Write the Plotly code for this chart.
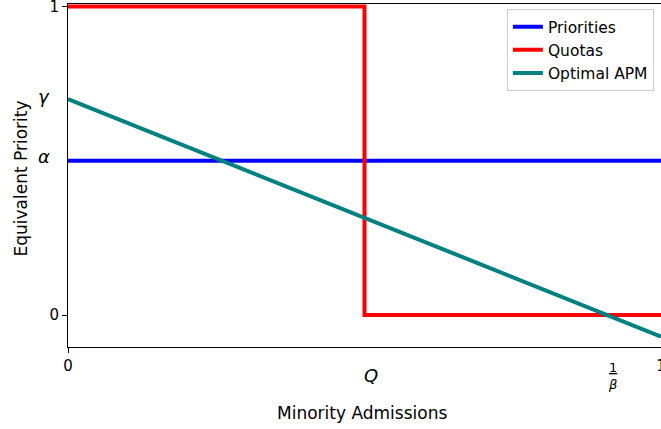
import plotly.graph_objects as go

# Data
x_priorities = [0, 1]
y_priorities = [0.5, 0.5]
x_quotas = [0, 0.5, 0.5, 1]
y_quotas = [1, 1, 0, 0]
x_apm = [0, 1]
y_apm = [0.7, -0.07]

alpha_val = 0.5
gamma_val = 0.7
q_val = 0.5
inv_beta_val = 0.909

x_tickvals = [0, 1]
x_ticktext = ["0", "1"]
y_tickvals = [0, 1]
y_ticktext = ["0", "1"]

FONT = "DejaVu Sans"

fig = go.Figure()
fig.add_trace(go.Scatter(x=x_priorities, y=y_priorities, mode="lines", name="Priorities",
                         line=dict(color="#0000ff", width=4)))
fig.add_trace(go.Scatter(x=x_quotas, y=y_quotas, mode="lines", name="Quotas",
                         line=dict(color="#ff0000", width=4)))
fig.add_trace(go.Scatter(x=x_apm, y=y_apm, mode="lines", name="Optimal APM",
                         line=dict(color="#008080", width=4)))

fig.update_layout(
    width=661, height=429,
    margin=dict(l=68, r=0, t=4, b=82, autoexpand=False),
    plot_bgcolor="white", paper_bgcolor="white",
    font=dict(family=FONT, color="black", size=15),
    showlegend=True,
    legend=dict(x=0.988, y=0.985, xanchor="right", yanchor="top",
                bordercolor="#cccccc", borderwidth=1, bgcolor="rgba(255,255,255,0.8)",
                font=dict(size=15.5, family=FONT)),
    xaxis=dict(range=[0, 1], showgrid=False, zeroline=False, showline=True,
               linecolor="black", linewidth=1, mirror=True,
               ticks="outside", ticklen=5, tickcolor="black", ticklabeloverflow="allow",
               tickvals=x_tickvals, ticktext=x_ticktext, automargin=False),
    yaxis=dict(range=[-0.1037, 1.008], showgrid=False, zeroline=False, showline=True,
               linecolor="black", linewidth=1, mirror=False,
               ticks="outside", ticklen=5, tickcolor="black", ticklabeloverflow="allow",
               tickvals=y_tickvals, ticktext=y_ticktext, automargin=False),
)

annotations = [
    dict(x=0, xref="paper", y=gamma_val, yref="y", text="<i>γ</i>", showarrow=False,
         xanchor="center", yanchor="middle", xshift=-24, yshift=3, font=dict(size=18, family=FONT)),
    dict(x=0, xref="paper", y=alpha_val, yref="y", text="<i>α</i>", showarrow=False,
         xanchor="center", yanchor="middle", xshift=-24, yshift=4, font=dict(size=18, family=FONT)),
    dict(x=q_val, xref="x", y=0, yref="paper", text="<i>Q</i>", showarrow=False,
         xanchor="center", yanchor="middle", xshift=6, yshift=-28, font=dict(size=18, family=FONT)),
    dict(x=inv_beta_val, xref="x", y=0, yref="paper", text="<u>1</u><br><i>β</i>", showarrow=False,
         xanchor="center", yanchor="middle", xshift=5, yshift=-29, font=dict(size=13, family=FONT)),
    dict(x=0.5, xref="paper", y=0, yref="paper", text="Minority Admissions", showarrow=False,
         xanchor="center", yanchor="middle", xshift=-3, yshift=-66, font=dict(size=17, family=FONT)),
    dict(x=0, xref="paper", y=0.5, yref="paper", text="Equivalent Priority", showarrow=False,
         textangle=-90, xanchor="center", yanchor="middle", xshift=-48, yshift=-3,
         font=dict(size=17, family=FONT)),
]
fig.update_layout(annotations=annotations)

fig.write_html("out.html", config={"displayModeBar": False},
               post_script="document.body.style.margin='0px';")
